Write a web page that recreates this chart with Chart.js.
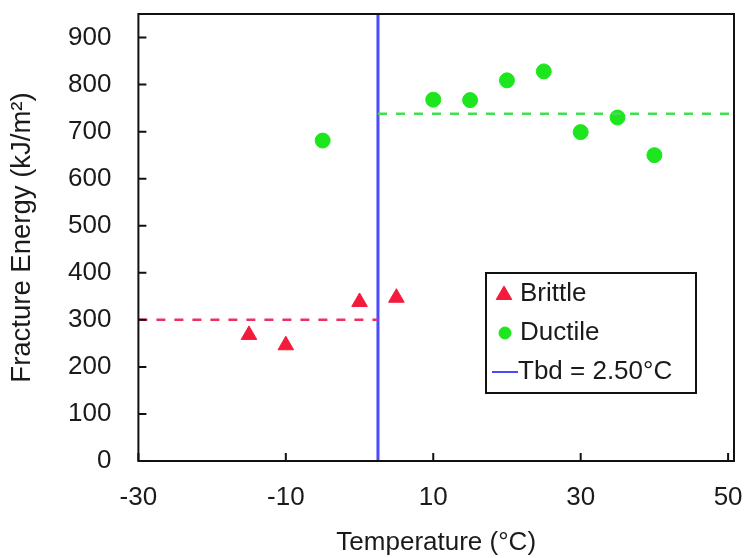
<!DOCTYPE html>
<html>
<head>
<meta charset="utf-8">
<script src="https://cdn.jsdelivr.net/npm/chart.js@4.4.1/dist/chart.umd.min.js"></script>
<style>
  html, body { margin: 0; padding: 0; background: #fff; }
</style>
</head>
<body>
<canvas id="fractureChart" width="744" height="558"></canvas>
<script>
// Fracture energy vs. test temperature
const brittleTemp = [-15, -10, 0, 5];
const brittleEnergy = [268, 246, 338, 347];
const ductileTemp = [-5, 10, 15, 20, 25, 30, 35, 40];
const ductileEnergy = [681, 768, 767, 809, 828, 699, 730, 650];
const brittleMean = 300;
const ductileMean = 738;
const tbd = 2.5;

const xMin = -30, xMax = 50.8;
const yMin = 0, yMax = 950;
const xTicks = [-30, -10, 10, 30, 50];
const yTicks = [0, 100, 200, 300, 400, 500, 600, 700, 800, 900];

const RED = '#f41a3c';
const GREEN = '#1ee61e';
const BLUE = '#4a4aff';
const FONT = '"Liberation Sans", Arial, sans-serif';
const TEXT = '#1a1a1a';

const toPoints = (xs, ys) => xs.map((x, i) => ({ x: x, y: ys[i] }));

// keep tick labels from shrinking the plot area
const noOverflow = scale => {
    scale.paddingLeft = 0;
    scale.paddingRight = 0;
    scale.paddingTop = 0;
    scale.paddingBottom = 0;
};

// frame around the plot, inward tick marks and the legend box
const framePlugin = {
    id: 'frame',
    afterDatasetsDraw(chart) {
        const { ctx, chartArea: a, scales } = chart;
        ctx.save();
        ctx.strokeStyle = '#111';
        ctx.lineWidth = 2;
        ctx.strokeRect(a.left, a.top, a.right - a.left, a.bottom - a.top);

        ctx.beginPath();
        yTicks.forEach(v => {
            const py = scales.y.getPixelForValue(v);
            ctx.moveTo(a.left, py);
            ctx.lineTo(a.left + 8, py);
        });
        xTicks.forEach(v => {
            const px = scales.x.getPixelForValue(v);
            ctx.moveTo(px, a.bottom);
            ctx.lineTo(px, a.bottom - 8);
        });
        ctx.stroke();
        ctx.restore();
    },
    afterDraw(chart) {
        const ctx = chart.ctx;
        const box = { x: 486, y: 273, w: 210, h: 120 };
        ctx.save();
        ctx.fillStyle = '#fff';
        ctx.fillRect(box.x, box.y, box.w, box.h);
        ctx.strokeStyle = '#111';
        ctx.lineWidth = 2;
        ctx.strokeRect(box.x, box.y, box.w, box.h);

        const rows = [294, 333, 372];
        const symX = 504;
        const textX = 520;

        ctx.fillStyle = RED; ctx.strokeStyle = RED; ctx.lineWidth = 1;
        Chart.helpers.drawPoint(ctx, { pointStyle: 'triangle', radius: 9, rotation: 0,
            borderWidth: 1 }, symX, rows[0] + 1);
        ctx.fillStyle = GREEN; ctx.strokeStyle = GREEN;
        Chart.helpers.drawPoint(ctx, { pointStyle: 'circle', radius: 6, rotation: 0,
            borderWidth: 1 }, symX + 1, rows[1]);

        ctx.strokeStyle = BLUE;
        ctx.lineWidth = 2;
        ctx.beginPath();
        ctx.moveTo(492, rows[2]);
        ctx.lineTo(518, rows[2]);
        ctx.stroke();

        ctx.font = '26px ' + FONT;
        ctx.fillStyle = TEXT;
        ctx.textBaseline = 'middle';
        ctx.textAlign = 'left';
        ctx.fillText('Brittle', textX, rows[0]);
        ctx.fillText('Ductile', textX, rows[1]);
        ctx.fillText('Tbd = 2.50°C', textX - 2, rows[2]);
        ctx.restore();
    }
};

const ctx = document.getElementById('fractureChart').getContext('2d');

const fractureChart = new Chart(ctx, {
    type: 'scatter',
    data: {
        datasets: [{
            label: 'Brittle mean',
            data: [{ x: xMin, y: brittleMean }, { x: tbd, y: brittleMean }],
            showLine: true,
            borderColor: '#ee3060',
            borderWidth: 2.5,
            borderDash: [9, 9],
            pointRadius: 0
        }, {
            label: 'Ductile mean',
            data: [{ x: tbd, y: ductileMean }, { x: xMax, y: ductileMean }],
            showLine: true,
            borderColor: '#40e050',
            borderWidth: 2.5,
            borderDash: [9, 9],
            pointRadius: 0
        }, {
            label: 'Tbd = 2.50°C',
            data: [{ x: tbd, y: yMin }, { x: tbd, y: yMax }],
            showLine: true,
            borderColor: BLUE,
            borderWidth: 3,
            pointRadius: 0
        }, {
            label: 'Brittle',
            data: toPoints(brittleTemp, brittleEnergy),
            pointStyle: 'triangle',
            pointRadius: 9,
            backgroundColor: RED,
            borderColor: RED,
            borderWidth: 1
        }, {
            label: 'Ductile',
            data: toPoints(ductileTemp, ductileEnergy),
            pointStyle: 'circle',
            pointRadius: 7.5,
            backgroundColor: GREEN,
            borderColor: GREEN,
            borderWidth: 1
        }]
    },
    options: {
        responsive: false,
        animation: false,
        layout: { padding: { top: 14, right: 6, left: 0, bottom: 0 } },
        plugins: {
            legend: { display: false },
            tooltip: { enabled: false }
        },
        scales: {
            x: {
                type: 'linear',
                min: xMin,
                max: xMax,
                afterBuildTicks: scale => { scale.ticks = xTicks.map(v => ({ value: v })); },
                afterFit: scale => { scale.height = 97; noOverflow(scale); },
                grid: { display: false, drawTicks: false },
                border: { display: false },
                ticks: {
                    padding: 21,
                    maxRotation: 0,
                    color: TEXT,
                    font: { family: FONT, size: 26 }
                },
                title: {
                    display: true,
                    text: 'Temperature (°C)',
                    color: TEXT,
                    padding: { top: 0, bottom: 0 },
                    font: { family: FONT, size: 26 }
                }
            },
            y: {
                type: 'linear',
                min: yMin,
                max: yMax,
                afterBuildTicks: scale => { scale.ticks = yTicks.map(v => ({ value: v })); },
                afterFit: scale => { scale.width = 138.4; noOverflow(scale); },
                grid: { display: false, drawTicks: false },
                border: { display: false },
                ticks: {
                    padding: 27,
                    color: TEXT,
                    font: { family: FONT, size: 26 }
                },
                title: {
                    display: true,
                    text: 'Fracture Energy (kJ/m²)',
                    color: TEXT,
                    padding: { top: 6, bottom: 0 },
                    font: { family: FONT, size: 27.5 }
                }
            }
        }
    },
    plugins: [framePlugin]
});
</script>
</body>
</html>
